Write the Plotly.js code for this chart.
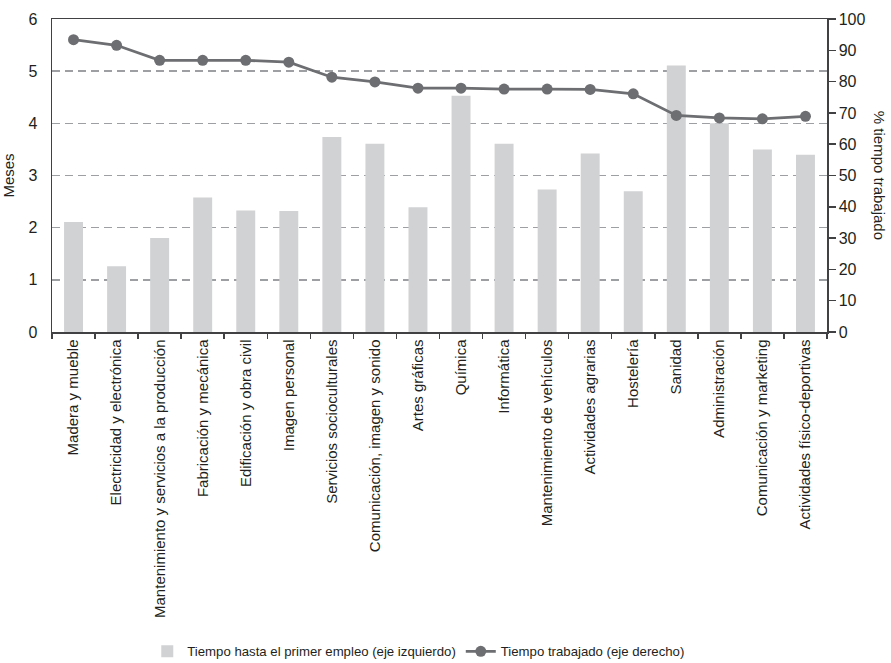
<!DOCTYPE html>
<html>
<head>
<meta charset="utf-8">
<script src="https://cdn.plot.ly/plotly-3.0.1.min.js"></script>
<style>html,body{margin:0;padding:0;background:#fff;}#chart{width:891px;height:663px;}</style>
</head>
<body>
<div id="chart"></div>
<script>
var categories = [
  "Madera y mueble",
  "Electricidad y electrónica",
  "Mantenimiento y servicios a la producción",
  "Fabricación y mecánica",
  "Edificación y obra civil",
  "Imagen personal",
  "Servicios socioculturales",
  "Comunicación, imagen y sonido",
  "Artes gráficas",
  "Química",
  "Informática",
  "Mantenimiento de vehículos",
  "Actividades agrarias",
  "Hostelería",
  "Sanidad",
  "Administración",
  "Comunicación y marketing",
  "Actividades físico-deportivas"
];
var mesesPrimerEmpleo = [2.11, 1.26, 1.80, 2.58, 2.33, 2.32, 3.74, 3.61, 2.39, 4.53, 3.61, 2.73, 3.42, 2.70, 5.11, 4.00, 3.50, 3.40];
var pctTiempoTrabajado = [93.4, 91.6, 86.8, 86.8, 86.8, 86.2, 81.4, 79.9, 77.9, 77.9, 77.6, 77.6, 77.5, 76.1, 69.2, 68.4, 68.1, 68.9];
var leftTicks = [0, 1, 2, 3, 4, 5, 6];
var rightTicks = [0, 10, 20, 30, 40, 50, 60, 70, 80, 90, 100];

var FONT = "'Liberation Sans Narrow', 'Liberation Sans', sans-serif";
var TXT = "#231f20";
var AX = "#414042";

var traces = [
  {
    type: "bar",
    name: "Tiempo hasta el primer empleo (eje izquierdo)",
    x: categories,
    y: mesesPrimerEmpleo,
    marker: {color: "#d1d2d4", line: {width: 0}},
    yaxis: "y",
    hoverinfo: "x+y"
  },
  {
    type: "scatter",
    mode: "lines+markers",
    name: "Tiempo trabajado (eje derecho)",
    x: categories,
    y: pctTiempoTrabajado,
    yaxis: "y2",
    line: {color: "#6d6e71", width: 2.8},
    marker: {color: "#6d6e71", size: 11}
  }
];

var layout = {
  width: 891,
  height: 663,
  margin: {l: 52, r: 64, t: 18.5, b: 331},
  paper_bgcolor: "#ffffff",
  plot_bgcolor: "#ffffff",
  font: {family: FONT, color: TXT, size: 15},
  bargap: 0.56,
  showlegend: true,
  legend: {
    orientation: "h",
    xref: "container",
    yref: "container",
    x: 0.47,
    xanchor: "center",
    y: 0.017,
    yanchor: "middle",
    font: {family: FONT, size: 13.2, color: TXT},
    itemwidth: 30,
    tracegroupgap: 0
  },
  xaxis: {
    type: "category",
    range: [-0.5, categories.length - 0.5],
    tickangle: -90,
    tickfont: {family: FONT, size: 15, color: TXT},
    ticks: "outside",
    tickson: "boundaries",
    ticklen: 5,
    tickwidth: 1.5,
    tickcolor: AX,
    showline: true,
    linecolor: AX,
    linewidth: 1.5,
    mirror: true,
    showgrid: false,
    zeroline: false,
    fixedrange: true
  },
  yaxis: {
    range: [0, 6],
    tickvals: leftTicks,
    ticktext: leftTicks.map(String),
    tickfont: {family: FONT, size: 16, color: TXT},
    ticks: "",
    ticklabelstandoff: 10,
    showline: true,
    linecolor: AX,
    linewidth: 1.5,
    showgrid: true,
    gridcolor: "#9d9fa2",
    gridwidth: 1.4,
    griddash: "8px,5px",
    zeroline: false,
    title: {text: "Meses", font: {family: FONT, size: 15, color: TXT}, standoff: 10},
    fixedrange: true
  },
  yaxis2: {
    overlaying: "y",
    side: "right",
    range: [0, 100],
    tickvals: rightTicks,
    ticktext: rightTicks.map(String),
    tickfont: {family: FONT, size: 16, color: TXT},
    ticks: "outside",
    ticklen: 7,
    tickwidth: 1.5,
    tickcolor: AX,
    showline: true,
    linecolor: AX,
    linewidth: 1.5,
    showgrid: false,
    zeroline: false,
    fixedrange: true
  },
  annotations: [
    {
      text: "% tiempo trabajado",
      xref: "paper",
      yref: "paper",
      x: 1.068,
      y: 0.5,
      xanchor: "center",
      yanchor: "middle",
      textangle: 90,
      showarrow: false,
      font: {family: FONT, size: 15, color: TXT}
    }
  ]
};

Plotly.newPlot("chart", traces, layout, {displayModeBar: false, staticPlot: true});
</script>
</body>
</html>
